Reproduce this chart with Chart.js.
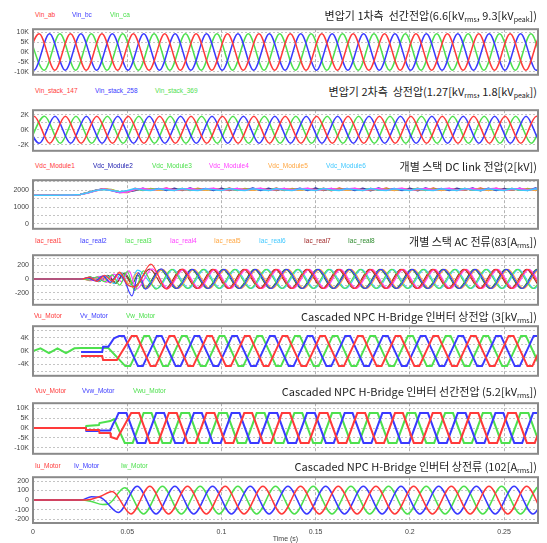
<!DOCTYPE html>
<html><head><meta charset="utf-8">
<script src="https://cdn.jsdelivr.net/npm/chart.js@4.4.1/dist/chart.umd.min.js"></script>
<style>
body{margin:0;background:#fff;}
#wrap{position:relative;width:547px;height:543px;overflow:hidden;background:#fff;font-family:"Liberation Sans",Arial,sans-serif;}
.leg{position:absolute;font-size:6.5px;white-space:nowrap;line-height:10px;}
.ttl{position:absolute;right:10px;font-family:"Noto Sans CJK KR","Noto Sans",sans-serif;font-size:11px;color:#222;white-space:nowrap;line-height:16px;}
.ttl sub{font-size:7px;vertical-align:-2px;line-height:0;}
</style></head><body><div id="wrap"></div>
<script>
// ---------- time axis ----------
const tMax = 0.268;
const xTicks = [0, 0.05, 0.1, 0.15, 0.2, 0.25];
const xTickLabels = ['0', '0.05', '0.1', '0.15', '0.2', '0.25'];
const gridHalfPeriod = 1 / 120;   // grid side waves: 60 Hz
const motorHalfPeriod = 1 / 100;  // inverter / motor side waves: 50 Hz

// ---------- panel 1 : transformer primary line voltage (kV) ----------
const p1Names = ['Vin_ab', 'Vin_bc', 'Vin_ca'];
const p1Ticks = [10, 5, 0, -5, -10];
const p1TickLabels = ['10K', '5K', '0K', '-5K', '-10K'];
const p1Start = [-0.0051, -0.0079, -0.0024];
const p1Ab = [-9.3,9.3,-9.3,9.3,-9.3,9.3,-9.3,9.3,-9.3,9.3,
  -9.3,9.3,-9.3,9.3,-9.3,9.3,-9.3,9.3,-9.3,9.3,
  -9.3,9.3,-9.3,9.3,-9.3,9.3,-9.3,9.3,-9.3,9.3,
  -9.3,9.3,-9.3,9.3,-9.3,9.3];
const p1Bc = [9.3,-9.3,9.3,-9.3,9.3,-9.3,9.3,-9.3,9.3,-9.3,
  9.3,-9.3,9.3,-9.3,9.3,-9.3,9.3,-9.3,9.3,-9.3,
  9.3,-9.3,9.3,-9.3,9.3,-9.3,9.3,-9.3,9.3,-9.3,
  9.3,-9.3,9.3,-9.3,9.3,-9.3];
const p1Ca = [9.3,-9.3,9.3,-9.3,9.3,-9.3,9.3,-9.3,9.3,-9.3,
  9.3,-9.3,9.3,-9.3,9.3,-9.3,9.3,-9.3,9.3,-9.3,
  9.3,-9.3,9.3,-9.3,9.3,-9.3,9.3,-9.3,9.3,-9.3,
  9.3,-9.3,9.3,-9.3,9.3,-9.3];

// ---------- panel 2 : transformer secondary phase voltage (kV) ----------
const p2Names = ['Vin_stack_147', 'Vin_stack_258', 'Vin_stack_369'];
const p2Ticks = [2, 0, -2];
const p2TickLabels = ['2K', '0K', '-2K'];
const p2Start = [-0.0078, -0.0050, -0.0022];
const p2S147 = [-1.8,1.8,-1.8,1.8,-1.8,1.8,-1.8,1.8,-1.8,1.8,
  -1.8,1.8,-1.8,1.8,-1.8,1.8,-1.8,1.8,-1.8,1.8,
  -1.8,1.8,-1.8,1.8,-1.8,1.8,-1.8,1.8,-1.8,1.8,
  -1.8,1.8,-1.8,1.8,-1.8,1.8];
const p2S258 = [1.8,-1.8,1.8,-1.8,1.8,-1.8,1.8,-1.8,1.8,-1.8,
  1.8,-1.8,1.8,-1.8,1.8,-1.8,1.8,-1.8,1.8,-1.8,
  1.8,-1.8,1.8,-1.8,1.8,-1.8,1.8,-1.8,1.8,-1.8,
  1.8,-1.8,1.8,-1.8,1.8,-1.8];
const p2S369 = [-1.8,1.8,-1.8,1.8,-1.8,1.8,-1.8,1.8,-1.8,1.8,
  -1.8,1.8,-1.8,1.8,-1.8,1.8,-1.8,1.8,-1.8,1.8,
  -1.8,1.8,-1.8,1.8,-1.8,1.8,-1.8,1.8,-1.8,1.8,
  -1.8,1.8,-1.8,1.8,-1.8,1.8];

// ---------- panel 3 : DC link voltage of each stack (V), sampled every 1/240 s ----------
const p3Names = ['Vdc_Module1', 'Vdc_Module2', 'Vdc_Module3', 'Vdc_Module4', 'Vdc_Module5', 'Vdc_Module6'];
const p3Ticks = [2000, 1000, 0];
const p3TickLabels = ['2000', '1000', '0'];
const p3Step = 1 / 240;
const p3M1 = [1700,1700,1702,1705,1710,1722,1745,1850,1980,2080,
  2020,1880,1860,2120,1990,2110,2000,2130,1980,2110,
  1990,2120,2000,2100,1980,2130,1990,2110,2000,2100,
  1990,2130,1980,2110,2000,2100,1990,2120,1980,2130,
  2000,2100,1990,2110,2000,2130,1980,2100,2000,2120,
  1990,2130,1980,2110,1990,2100,2000,2130,1990,2120,
  1980,2100,2000,2110,1990,2120];
const p3M2 = [1700,1700,1702,1705,1712,1725,1752,1870,2000,2090,
  1990,1860,1900,1990,2120,2000,2110,1980,2120,1990,
  2130,2000,2110,1990,2120,1980,2100,2000,2130,1990,
  2120,1980,2110,2000,2120,1990,2130,1980,2110,2000,
  2100,1990,2120,1980,2130,2000,2110,1990,2120,1980,
  2130,2000,2110,1990,2120,2000,2130,1980,2120,1990,
  2110,2000,2120,1990,2130,1980];
const p3M3 = [1700,1701,1703,1706,1711,1724,1748,1860,1990,2060,
  2040,1900,1880,2080,2000,2090,2010,2080,2000,2100,
  2010,2080,2000,2090,2010,2100,2000,2080,2010,2090,
  2000,2100,2010,2080,2000,2090,2010,2100,2000,2080,
  2010,2090,2000,2100,2010,2080,2000,2090,2010,2100,
  2000,2080,2010,2090,2000,2100,2010,2080,2000,2090,
  2010,2100,2000,2080,2010,2090];
const p3M4 = [1700,1700,1701,1704,1709,1720,1742,1840,1970,2070,
  1990,1870,1900,2060,2110,2010,2060,2120,2000,2060,
  2110,2010,2070,2120,2000,2060,2110,2010,2070,2120,
  2000,2060,2110,2010,2070,2120,2000,2060,2110,2010,
  2070,2120,2000,2060,2110,2010,2070,2120,2000,2060,
  2110,2010,2070,2120,2000,2060,2110,2010,2070,2120,
  2000,2060,2110,2010,2070,2120];
const p3M5 = [1700,1700,1702,1705,1710,1721,1744,1845,1975,2075,
  2030,1890,1910,2030,2090,2040,2000,2080,2050,2010,
  2090,2040,2000,2080,2050,2010,2090,2040,2000,2080,
  2050,2010,2090,2040,2000,2080,2050,2010,2090,2040,
  2000,2080,2050,2010,2090,2040,2000,2080,2050,2010,
  2090,2040,2000,2080,2050,2010,2090,2040,2000,2080,
  2050,2010,2090,2040,2000,2080];
const p3M6 = [1700,1700,1702,1706,1712,1724,1747,1855,1985,2050,
  1980,1910,1990,2100,2020,1990,2090,2030,1980,2100,
  2020,1990,2090,2030,1980,2100,2020,1990,2090,2030,
  1980,2100,2020,1990,2090,2030,1980,2100,2020,1990,
  2090,2030,1980,2100,2020,1990,2090,2030,1980,2100,
  2020,1990,2090,2030,1980,2100,2020,1990,2090,2030,
  1980,2100,2020,1990,2090,2030];

// ---------- panel 4 : AC current of each stack (A) ----------
const p4Names = ['Iac_real1', 'Iac_real2', 'Iac_real3', 'Iac_real4', 'Iac_real5', 'Iac_real6', 'Iac_real7', 'Iac_real8'];
const p4Ticks = [200, 0, -200];
const p4TickLabels = ['200', '0', '-200'];
// transient points [t, A] then successive half-cycle extremes from the start time
const p4Pre = [
  [[0,0],[0.026,0],[0.030,25],[0.034,-35],[0.038,55],[0.042,-30],[0.046,100],[0.050,-80]],
  [[0,0],[0.026,0],[0.029,20],[0.033,-30],[0.037,45],[0.041,-50],[0.045,70],[0.0485,-20],[0.0525,-250],[0.0560,90]],
  [[0,0],[0.026,0],[0.030,-15],[0.034,30],[0.038,-40],[0.042,60],[0.046,-90],[0.050,110],[0.054,-170],[0.0585,120]],
  [[0,0],[0.026,0],[0.031,-20],[0.035,40],[0.039,-50],[0.043,70],[0.047,-40],[0.051,120]],
  [[0,0],[0.026,0],[0.031,-25],[0.036,40],[0.041,-60],[0.046,80],[0.051,-70],[0.0555,90]],
  [[0,0],[0.026,0],[0.031,20],[0.035,-35],[0.039,50],[0.043,-70],[0.047,90],[0.051,-100],[0.0555,130]],
  [[0,0],[0.026,0],[0.032,15],[0.036,-25],[0.040,45],[0.044,-55],[0.048,75]],
  [[0,0],[0.026,0],[0.0305,30],[0.035,-40],[0.0395,55],[0.044,-65],[0.0485,85],[0.0530,-60],[0.0555,60]]
];
const p4Start = [0.0542, 0.0597, 0.0653, 0.0549, 0.0604, 0.0660, 0.0536, 0.0591];
const p4Ext = [
  [-120,220,-150,145,-140,140,-140,140,-140,140,-140,140,-140,140,-140,140,-140,140,-140,140,-140,140,-140,140,-140,140,-140,140],
  [-150,150,-140,140,-140,140,-140,140,-140,140,-140,140,-140,140,-140,140,-140,140,-140,140,-140,140,-140,140,-140,140,-140,140],
  [-150,140,-140,140,-140,140,-140,140,-140,140,-140,140,-140,140,-140,140,-140,140,-140,140,-140,140,-140,140,-140,140,-140,140],
  [-150,150,-140,140,-140,140,-140,140,-140,140,-140,140,-140,140,-140,140,-140,140,-140,140,-140,140,-140,140,-140,140,-140,140],
  [-140,140,-140,140,-140,140,-140,140,-140,140,-140,140,-140,140,-140,140,-140,140,-140,140,-140,140,-140,140,-140,140,-140,140],
  [-140,140,-140,140,-140,140,-140,140,-140,140,-140,140,-140,140,-140,140,-140,140,-140,140,-140,140,-140,140,-140,140,-140,140],
  [-110,145,-140,140,-140,140,-140,140,-140,140,-140,140,-140,140,-140,140,-140,140,-140,140,-140,140,-140,140,-140,140,-140,140],
  [-140,140,-140,140,-140,140,-140,140,-140,140,-140,140,-140,140,-140,140,-140,140,-140,140,-140,140,-140,140,-140,140,-140,140]
];

// ---------- panel 5 : inverter phase voltage (kV), trapezoid plateaus ----------
const p5Names = ['Vu_Motor', 'Vv_Motor', 'Vw_Motor'];
const p5Ticks = [4, 0, -4];
const p5TickLabels = ['4K', '0K', '-4K'];
const p5Pre = [
  [[0.0255,-1.5],[0.0367,-1.5],[0.0372,-2.7],[0.0445,-2.7]],
  [[0.0255,-0.3],[0.0367,-0.3],[0.0372,1.3],[0.0400,1.3],[0.0430,3.8]],
  [[0,0],[0.004,0.8],[0.0085,-0.6],[0.013,0.8],[0.0175,-0.6],[0.022,0.8],[0.0255,0.9],[0.0400,0.9]]
];
const p5Start = [0.0537, 0.0470, 0.0503];
const p5Flat = 0.0013;
const p5Ext = [
  [4.5,-4.5,4.5,-4.5,4.5,-4.5,4.5,-4.5,4.5,-4.5,4.5,-4.5,4.5,-4.5,4.5,-4.5,4.5,-4.5,4.5,-4.5,4.5,-4.5,4.5,-4.5,4.5,-4.5],
  [4.5,-4.5,4.5,-4.5,4.5,-4.5,4.5,-4.5,4.5,-4.5,4.5,-4.5,4.5,-4.5,4.5,-4.5,4.5,-4.5,4.5,-4.5,4.5,-4.5,4.5,-4.5,4.5,-4.5],
  [-4.5,4.5,-4.5,4.5,-4.5,4.5,-4.5,4.5,-4.5,4.5,-4.5,4.5,-4.5,4.5,-4.5,4.5,-4.5,4.5,-4.5,4.5,-4.5,4.5,-4.5,4.5,-4.5,4.5]
];

// ---------- panel 6 : inverter line voltage (kV) ----------
const p6Names = ['Vuv_Motor', 'Vvw_Motor', 'Vwu_Motor'];
const p6Ticks = [10, 5, 0, -5, -10];
const p6TickLabels = ['10K', '5K', '0K', '-5K', '-10K'];
const p6Pre = [
  [[0,0],[0.028,0],[0.0283,-1],[0.035,-1],[0.0353,-2.5],[0.041,-2.5],[0.0413,-4.5],[0.0445,-5.5]],
  [[0,0],[0.028,0],[0.0283,-1.5],[0.035,-1.5],[0.0353,-1.2],[0.041,-1.2],[0.0425,2],[0.0440,4.5]],
  [[0,0],[0.028,0],[0.0283,1],[0.035,1.5],[0.0353,2.5],[0.041,3.5],[0.043,4.5]]
];
const p6Start = [0.0542, 0.0475, 0.0508];
const p6Flat = 0.0021;
const p6Ext = [
  [7.5,-7.5,7.5,-7.5,7.5,-7.5,7.5,-7.5,7.5,-7.5,7.5,-7.5,7.5,-7.5,7.5,-7.5,7.5,-7.5,7.5,-7.5,7.5,-7.5,7.5,-7.5,7.5,-7.5],
  [7.5,-7.5,7.5,-7.5,7.5,-7.5,7.5,-7.5,7.5,-7.5,7.5,-7.5,7.5,-7.5,7.5,-7.5,7.5,-7.5,7.5,-7.5,7.5,-7.5,7.5,-7.5,7.5,-7.5],
  [-7.5,7.5,-7.5,7.5,-7.5,7.5,-7.5,7.5,-7.5,7.5,-7.5,7.5,-7.5,7.5,-7.5,7.5,-7.5,7.5,-7.5,7.5,-7.5,7.5,-7.5,7.5,-7.5,7.5]
];

// ---------- panel 7 : inverter phase current (A) ----------
const p7Names = ['Iu_Motor', 'Iv_Motor', 'Iw_Motor'];
const p7Ticks = [200, 100, 0, -100, -200];
const p7TickLabels = ['200', '100', '0', '-100', '-200'];
const p7Pre = [
  [[0,0],[0.0255,0],[0.031,10],[0.036,40]],
  [[0,0],[0.0255,0],[0.031,35],[0.0355,30]],
  [[0,0],[0.0255,0],[0.031,-15],[0.037,-45],[0.040,-40]]
];
const p7Start = [0.0420, 0.0453, 0.0487];
const p7Ext = [
  [90,-145,145,-145,145,-145,145,-145,145,-145,145,-145,145,-145,145,-145,145,-145,145,-145,145,-145,145,-145,145,-145],
  [-130,145,-145,145,-145,145,-145,145,-145,145,-145,145,-145,145,-145,145,-145,145,-145,145,-145,145,-145,145,-145,145],
  [130,-145,145,-145,145,-145,145,-145,145,-145,145,-145,145,-145,145,-145,145,-145,145,-145,145,-145,145,-145,145,-145]
];

// ---------- colours ----------
const cRGB = ['#ff3a3a', '#3a3aff', '#4ee04e'];
const c8 = ['#ff3a3a', '#3a3aff', '#4ee04e', '#ff40ff', '#ffa640', '#40c8ff', '#a02828', '#2e8b2e'];
const c3 = ['#ff3a3a', '#2020b0', '#4ee04e', '#ff40ff', '#ffa640', '#40c8ff'];

// ---------- builders ----------
function extremes(pre, t0, vals, half, flat) {
  const pts = (pre || []).map(p => ({x: p[0], y: p[1]}));
  vals.forEach((v, i) => {
    const t = t0 + i * half;
    if (flat) { pts.push({x: t - flat, y: v}, {x: t + flat, y: v}); }
    else pts.push({x: t, y: v});
  });
  return pts;
}
function sampled(vals, step) { return vals.map((v, i) => ({x: i * step, y: v})); }

const p3Series = [p3M1, p3M2, p3M3, p3M4, p3M5, p3M6];
const p3Order = [5, 3, 4, 2, 0, 1];   // drawing order, Module2 on top

const panels = [
  {top: 29, bottom: 75, min: -11.6, max: 11.6, grid: [10, 5, 0, -5, -10], ticks: p1Ticks, labels: p1TickLabels, smooth: true, lw: 1.5,
   series: [p1Ab, p1Bc, p1Ca].map((v, i) => ({pts: extremes(null, p1Start[i], v, gridHalfPeriod), color: cRGB[i]})),
   names: p1Names, colors: cRGB, legX: [35, 72, 110], legY: 15,
   title: '변압기 1차측&nbsp; 선간전압(6.6[kV<sub>rms</sub>, 9.3[kV<sub>peak</sub>])'},
  {top: 110, bottom: 151, min: -2.8, max: 2.6, grid: [2, 1, 0, -1, -2], ticks: p2Ticks, labels: p2TickLabels, smooth: true, lw: 1.6,
   series: [p2S147, p2S258, p2S369].map((v, i) => ({pts: extremes(null, p2Start[i], v, gridHalfPeriod), color: cRGB[i]})),
   names: p2Names, colors: cRGB, legX: [35, 95, 155], legY: 91,
   title: '변압기 2차측&nbsp; 상전압(1.27[kV<sub>rms</sub>, 1.8[kV<sub>peak</sub>])'},
  {top: 180, bottom: 229, min: -300, max: 2600, grid: [2500, 2000, 1500, 1000, 500, 0], ticks: p3Ticks, labels: p3TickLabels, smooth: false, lw: 1.5,
   series: p3Order.map(i => ({pts: sampled(p3Series[i], p3Step), color: c3[i]})),
   names: p3Names, colors: c3, legX: [35, 93, 152, 209, 268, 326], legY: 166,
   title: '개별 스택 DC link 전압(2[kV])'},
  {top: 255, bottom: 305, min: -380, max: 350, grid: [300, 200, 100, 0, -100, -200, -300], ticks: p4Ticks, labels: p4TickLabels, smooth: true, lw: 1.2,
   series: p4Ext.map((v, i) => ({pts: extremes(p4Pre[i], p4Start[i], v, gridHalfPeriod), color: c8[i]})),
   names: p4Names, colors: c8, legX: [35, 80, 125, 170, 214, 259, 304, 348], legY: 241,
   title: '개별 스택 AC 전류(83[A<sub>rms</sub>])'},
  {top: 326, bottom: 376, min: -7.4, max: 7.4, grid: [6, 4, 2, 0, -2, -4, -6], ticks: p5Ticks, labels: p5TickLabels, smooth: false, lw: 2,
   series: p5Ext.map((v, i) => ({pts: extremes(p5Pre[i], p5Start[i], v, motorHalfPeriod, p5Flat), color: cRGB[i]})),
   names: p5Names, colors: cRGB, legX: [34, 80, 126], legY: 316,
   title: 'Cascaded NPC H-Bridge 인버터 상전압 (3[kV<sub>rms</sub>])'},
  {top: 403, bottom: 454, min: -13, max: 12.5, grid: [10, 5, 0, -5, -10], ticks: p6Ticks, labels: p6TickLabels, smooth: false, lw: 2,
   series: p6Ext.map((v, i) => ({pts: extremes(p6Pre[i], p6Start[i], v, motorHalfPeriod, p6Flat), color: cRGB[i]})),
   names: p6Names, colors: cRGB, legX: [35, 82, 133], legY: 391,
   title: 'Cascaded NPC H-Bridge 인버터 선간전압 (5.2[kV<sub>rms</sub>])'},
  {top: 477, bottom: 523, min: -240, max: 240, grid: [200, 100, 0, -100, -200], ticks: p7Ticks, labels: p7TickLabels, smooth: true, lw: 1.5,
   series: p7Ext.map((v, i) => ({pts: extremes(p7Pre[i], p7Start[i], v, motorHalfPeriod), color: cRGB[i]})),
   names: p7Names, colors: cRGB, legX: [35, 74, 121], legY: 466,
   title: 'Cascaded NPC H-Bridge 인버터 상전류 (102[A<sub>rms</sub>])'}
];

const boxPlugin = {
  id: 'box',
  afterDraw(ch) {
    const a = ch.chartArea, c = ch.ctx;
    c.save(); c.strokeStyle = '#8a8a8a'; c.lineWidth = 2;
    c.strokeRect(a.left, a.top, a.right - a.left, a.bottom - a.top);
    c.restore();
  }
};

const wrap = document.getElementById('wrap');
panels.forEach((P, idx) => {
  const last = idx === panels.length - 1;
  const padT = 8, padB = last ? 0 : 8, axisH = last ? 20 : 0;
  const h = (P.bottom - P.top) + padT + padB + axisH;
  const cv = document.createElement('canvas');
  cv.width = 547; cv.height = h;
  cv.style.cssText = 'position:absolute;left:0;top:' + (P.top - padT) + 'px;width:547px;height:' + h + 'px';
  wrap.appendChild(cv);
  new Chart(cv, {
    type: 'line',
    data: {datasets: P.series.map(s => ({
      data: s.pts, borderColor: s.color, borderWidth: P.lw, pointRadius: 0, fill: false, clip: 0,
      tension: P.smooth ? 0.4 : 0, cubicInterpolationMode: P.smooth ? 'monotone' : 'default'
    }))},
    options: {
      responsive: false, animation: false, devicePixelRatio: 1, events: [], parsing: false,
      layout: {padding: {top: padT, bottom: padB, left: 0, right: 9}},
      plugins: {legend: {display: false}, tooltip: {enabled: false}},
      scales: {
        x: {type: 'linear', min: 0, max: tMax,
          afterBuildTicks: s => { s.ticks = xTicks.map(v => ({value: v})); },
          afterFit: s => { s.height = axisH; },
          grid: {color: '#b4b4b4', lineWidth: 1, drawTicks: false},
          border: {display: false, dash: [3, 2]},
          ticks: {display: last, font: {size: 7, family: 'Liberation Sans'}, color: '#444', padding: 5, maxRotation: 0,
            callback: v => { const i = xTicks.indexOf(v); return i >= 0 ? xTickLabels[i] : ''; }},
          title: {display: last, text: 'Time (s)', font: {size: 7, family: 'Liberation Sans'}, color: '#444', padding: 0}
        },
        y: {type: 'linear', min: P.min, max: P.max,
          afterBuildTicks: s => { s.ticks = P.grid.map(v => ({value: v})); },
          afterFit: s => { s.width = 33; },
          grid: {color: '#c4c4c4', drawTicks: false},
          border: {display: false, dash: [2, 2]},
          ticks: {font: {size: 7, family: 'Liberation Sans'}, color: '#444', padding: 4, autoSkip: false,
            callback: v => { const i = P.ticks.indexOf(v); return i >= 0 ? P.labels[i] : ''; }}
        }
      }
    },
    plugins: [boxPlugin]
  });
  // legend (series names) and panel title as real text
  P.names.forEach((n, i) => {
    const d = document.createElement('div');
    d.className = 'leg'; d.textContent = n; d.style.color = P.colors[i];
    d.style.left = P.legX[i] + 'px'; d.style.top = (P.legY - 5) + 'px';
    wrap.appendChild(d);
  });
  const t = document.createElement('div');
  t.className = 'ttl'; t.innerHTML = P.title; t.style.top = (P.legY - 8) + 'px';
  wrap.appendChild(t);
});
</script></body></html>
